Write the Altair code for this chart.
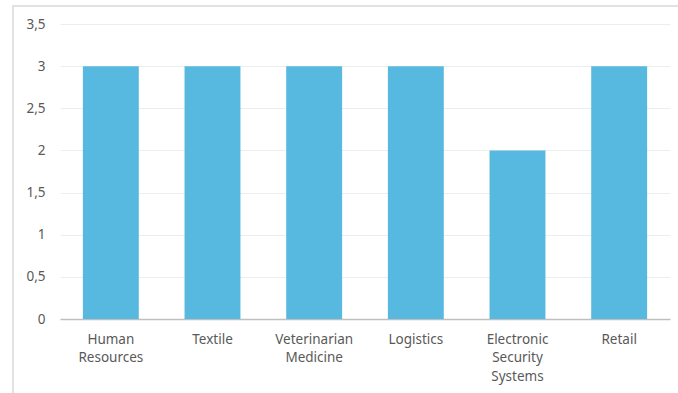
import altair as alt
import pandas as pd

categories = ["Human Resources", "Textile", "Veterinarian Medicine", "Logistics",
              "Electronic Security Systems", "Retail"]
values = [3, 3, 3, 3, 2, 3]

df = pd.DataFrame({"category": categories, "value": values})

FONT = "Noto Sans"
GRAY = "#595959"

border = alt.Chart(pd.DataFrame({"a": [0]})).mark_rect(
    fill=None, stroke="#D9D9D9", strokeWidth=1.5, clip=False
).encode(
    x=alt.value(-47), x2=alt.value(700), y=alt.value(-18), y2=alt.value(420)
)

bars = alt.Chart(df).mark_bar(color="#57B9E0").encode(
    x=alt.X("category:N", sort=categories, title=None,
            scale=alt.Scale(paddingInner=0.45, paddingOuter=0.225),
            axis=alt.Axis(labelAngle=0, labelExpr="split(datum.label, ' ')",
                          labelFont=FONT, labelFontSize=13.5, labelColor=GRAY,
                          labelLineHeight=18.5, labelPadding=13, labelBaseline="top",
                          ticks=False, domainColor="#BFBFBF", domainWidth=1.5,
                          grid=False)),
    y=alt.Y("value:Q", title=None,
            scale=alt.Scale(domain=[0, 3.5], nice=False),
            axis=alt.Axis(values=[0, 0.5, 1, 1.5, 2, 2.5, 3, 3.5],
                          labelExpr="replace(format(datum.value, '~g'), '.', ',')",
                          labelFont=FONT, labelFontSize=13.5, labelColor=GRAY,
                          labelPadding=15, ticks=False, domain=False,
                          gridColor="#EDEDED", gridWidth=1.2)),
)

chart = alt.layer(border, bars).properties(
    width=610, height=295,
    autosize=alt.AutoSizeParams(type="none"),
    padding={"left": 60, "top": 24, "right": 8, "bottom": 74},
    background="white",
).configure_view(stroke=None)

chart.save("out.html", embed_options={"renderer": "svg", "actions": False})
